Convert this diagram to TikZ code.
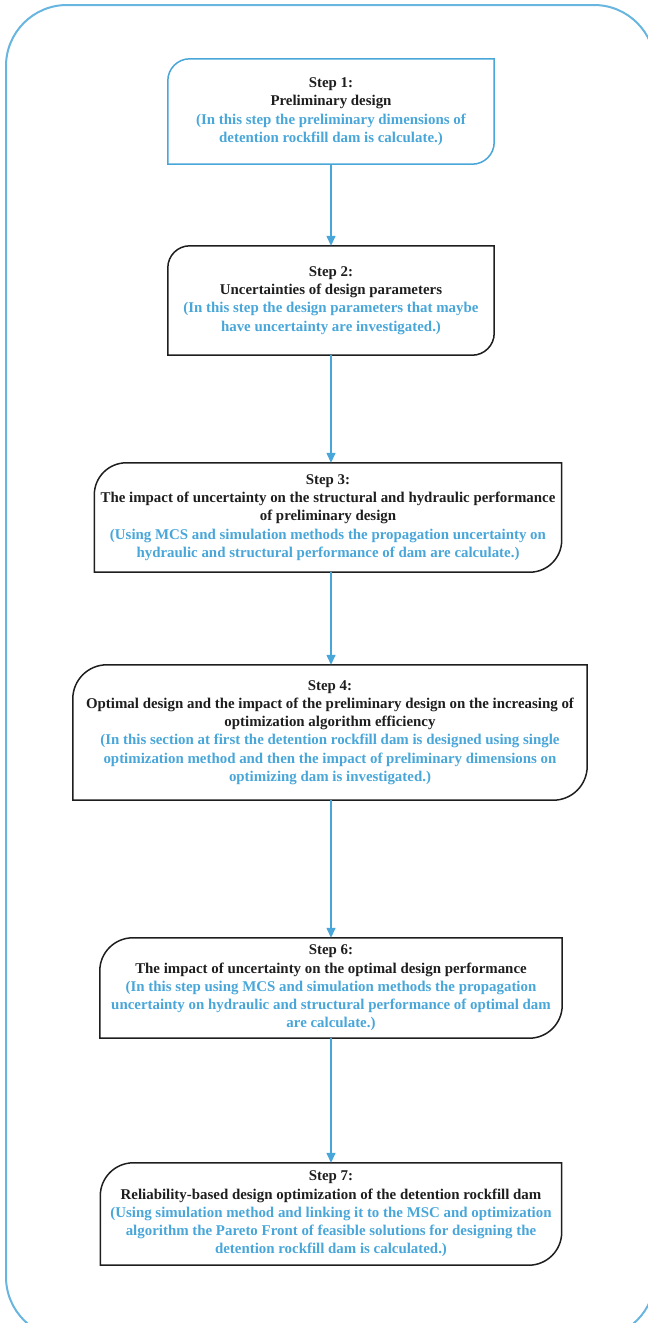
\documentclass[tikz,border=0pt]{standalone}
\usepackage{fontspec}
\setmainfont{Liberation Serif}
\usepackage{xcolor}
\usepackage{tikz}
\usetikzlibrary{arrows.meta}
\definecolor{stepblue}{RGB}{72,166,217}
\definecolor{frameblue}{RGB}{104,182,224}
\definecolor{stepink}{RGB}{30,30,30}
\tikzset{
  stepbox/.style={align=center, inner sep=0pt, text=stepink,
    font=\fontsize{14.9}{18.3}\selectfont\bfseries},
  flow/.style={stepblue, line width=1.4pt, -{Triangle[length=10pt,width=9pt]}}
}
% box with round top left and bottom right corners
\newcommand{\stepframe}[3]{%
  \draw [#2, line width=1.5pt] (#1.south west) -- ([yshift=-#3]#1.north west)
    arc [start angle=180, end angle=90, radius=#3] -- (#1.north east)
    -- ([yshift=#3]#1.south east)
    arc [start angle=0, end angle=-90, radius=#3] -- cycle;}

\begin{document}
\begin{tikzpicture}[x=1pt, y=1pt]

\useasboundingbox (0,0) rectangle (648,-1323);
\clip (0,0) rectangle (648,-1323);

\draw [frameblue, line width=2pt, rounded corners=61pt] (6,-5) rectangle (655,-1338);

\node [stepbox, minimum width=326, minimum height=105] (s1) at (331,-111.5)
  {Step 1:\\Preliminary design\\
   \color{stepblue}(In this step the preliminary dimensions of\\
   \color{stepblue}detention rockfill dam is calculate.)};
\node [stepbox, minimum width=326, minimum height=109] (s2) at (331,-300.5)
  {Step 2:\\Uncertainties of design parameters\\
   \color{stepblue}(In this step the design parameters that maybe\\
   \color{stepblue}have uncertainty are investigated.)};
\node [stepbox, minimum width=467, minimum height=109] (s3) at (328,-517.5)
  {Step 3:\\The impact of uncertainty on the structural and hydraulic performance\\
   of preliminary design\\
   \color{stepblue}(Using MCS and simulation methods the propagation uncertainty on\\
   \color{stepblue}hydraulic and structural performance of dam are calculate.)};
\node [stepbox, minimum width=514, minimum height=135] (s4) at (330,-732.5)
  {Step 4:\\Optimal design and the impact of the preliminary design on the increasing of\\
   optimization algorithm efficiency\\
   \color{stepblue}(In this section at first the detention rockfill dam is designed using single\\
   \color{stepblue}optimization method and then the impact of preliminary dimensions on\\
   \color{stepblue}optimizing dam is investigated.)};
\node [stepbox, minimum width=462, minimum height=100] (s6) at (331,-988)
  {Step 6:\\The impact of uncertainty on the optimal design performance\\
   \color{stepblue}(In this step using MCS and simulation methods the propagation\\
   \color{stepblue}uncertainty on hydraulic and structural performance of optimal dam\\
   \color{stepblue}are calculate.)};
\node [stepbox, minimum width=461, minimum height=102] (s7) at (331,-1214)
  {Step 7:\\Reliability-based design optimization of the detention rockfill dam\\
   \color{stepblue}(Using simulation method and linking it to the MSC and optimization\\
   \color{stepblue}algorithm the Pareto Front of feasible solutions for designing the\\
   \color{stepblue}detention rockfill dam is calculated.)};

\stepframe{s1}{stepblue}{22pt}
\stepframe{s2}{stepink}{22pt}
\stepframe{s3}{stepink}{32pt}
\stepframe{s4}{stepink}{34pt}
\stepframe{s6}{stepink}{33pt}
\stepframe{s7}{stepink}{33pt}

\draw [flow] (s1.south) -- (s1.south |- s2.north);
\draw [flow] (s2.south) -- (s2.south |- s3.north);
\draw [flow] (s2.south |- s3.south) -- (s2.south |- s4.north);
\draw [flow] (s6.north |- s4.south) -- (s6.north);
\draw [flow] (s6.south) -- (s7.north);

\end{tikzpicture}
\end{document}
